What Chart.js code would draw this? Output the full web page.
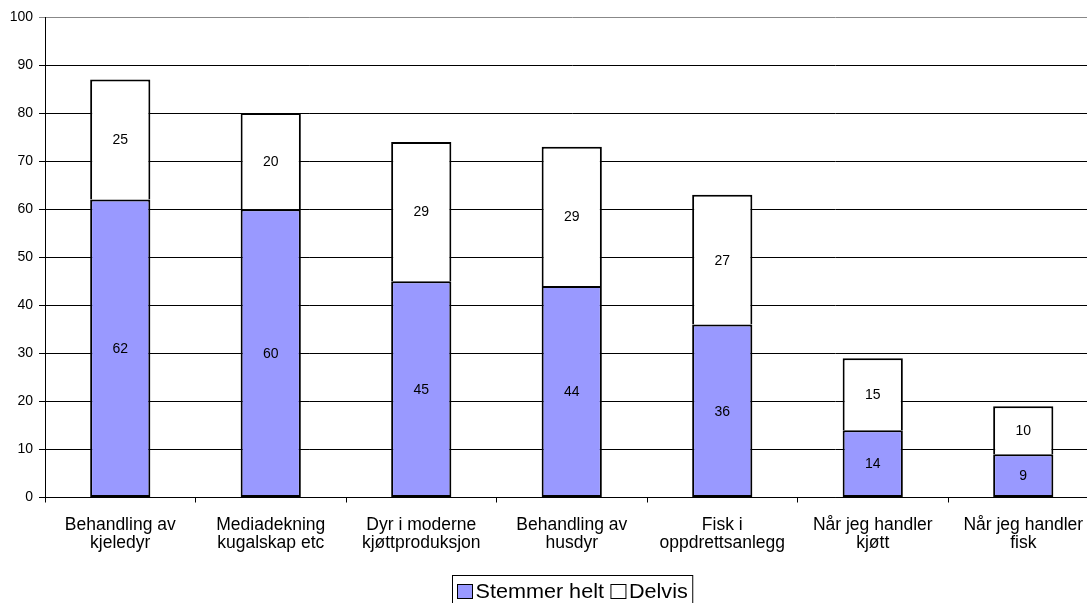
<!DOCTYPE html>
<html>
<head>
<meta charset="utf-8">
<script src="https://cdn.jsdelivr.net/npm/chart.js@4/dist/chart.umd.min.js"></script>
<style>
  html, body { margin: 0; padding: 0; background: #fff; overflow: hidden; }
  canvas { display: block; }
</style>
</head>
<body>
<canvas id="bar-chart" width="1143" height="610" style="width:1143px;height:610px"></canvas>
<script>
// data
var categories = [
  ["Behandling av", "kjeledyr"],
  ["Mediadekning", "kugalskap etc"],
  ["Dyr i moderne", "kjøttproduksjon"],
  ["Behandling av", "husdyr"],
  ["Fisk i", "oppdrettsanlegg"],
  ["Når jeg handler", "kjøtt"],
  ["Når jeg handler", "fisk"]
];
var stemmerHelt = [62, 60, 45, 44, 36, 14, 9];
var delvis = [25, 20, 29, 29, 27, 15, 10];
var seriesNames = ["Stemmer helt", "Delvis"];

var FONT = "'Liberation Sans', Arial, sans-serif";

// numbers in the middle of each bar piece
var valueLabels = {
  id: 'valueLabels',
  afterDatasetsDraw: function(chart) {
    var ctx = chart.ctx;
    ctx.save();
    ctx.font = "14px " + FONT;
    ctx.fillStyle = "#000";
    ctx.textAlign = "center";
    ctx.textBaseline = "middle";
    chart.data.datasets.forEach(function(ds, i) {
      chart.getDatasetMeta(i).data.forEach(function(bar, j) {
        var p = bar.getProps(['x', 'y', 'base'], true);
        ctx.fillText(ds.data[j], p.x, (p.y + p.base) / 2 + 1);
      });
    });
    ctx.restore();
  }
};

// boxed legend under the axis
var boxLegend = {
  id: 'boxLegend',
  afterDraw: function(chart) {
    var ctx = chart.ctx;
    var sx = 1.08;
    ctx.save();
    ctx.font = "20px " + FONT;
    var sq = 15, gap = 3, between = 7, pad = 5;
    var items = chart.data.datasets.map(function(ds) {
      return { text: ds.label, color: ds.backgroundColor, w: ctx.measureText(ds.label).width * sx };
    });
    var total = pad * 2;
    items.forEach(function(it, k) { total += sq + gap + it.w + (k ? between : 0); });
    var cx = (chart.chartArea.left + chart.chartArea.right) / 2;
    var left = Math.round(cx - total / 2) + 0.5;
    var top = 575.5, h = 31;
    ctx.strokeStyle = "#000";
    ctx.lineWidth = 1;
    ctx.strokeRect(left, top, total, h);
    var x = left + pad;
    var my = top + 16;
    items.forEach(function(it, k) {
      if (k) x += between;
      ctx.fillStyle = it.color;
      ctx.fillRect(x, my - 7, sq, 14);
      ctx.strokeRect(x, my - 7, sq, 14);
      x += sq + gap;
      ctx.save();
      ctx.translate(x, my);
      ctx.scale(sx, 1);
      ctx.fillStyle = "#000";
      ctx.textBaseline = "middle";
      ctx.fillText(it.text, 0, 1);
      ctx.restore();
      x += it.w;
    });
    ctx.restore();
  }
};

new Chart(document.getElementById("bar-chart"), {
  type: 'bar',
  data: {
    labels: categories,
    datasets: [
      {
        label: seriesNames[0],
        data: stemmerHelt,
        backgroundColor: "#9999ff",
        borderColor: "#000",
        borderWidth: 2,
        borderSkipped: false
      },
      {
        label: seriesNames[1],
        data: delvis,
        backgroundColor: "#ffffff",
        borderColor: "#000",
        borderWidth: 2,
        borderSkipped: 'bottom'
      }
    ]
  },
  options: {
    responsive: false,
    animation: false,
    devicePixelRatio: 1,
    categoryPercentage: 0.4,
    barPercentage: 1,
    layout: { padding: { top: 17, left: 0, right: 44.5, bottom: 0 } },
    plugins: {
      legend: { display: false },
      tooltip: { enabled: false }
    },
    scales: {
      x: {
        stacked: true,
        afterFit: function(scale) { scale.height = 112.5; },
        grid: {
          offset: true,
          drawOnChartArea: false,
          drawTicks: true,
          tickLength: 5,
          color: "#000"
        },
        border: { display: true, color: "#000" },
        ticks: {
          maxRotation: 0,
          autoSkip: false,
          padding: 14,
          color: "#000",
          font: { family: FONT, size: 17.5, lineHeight: '18px' }
        }
      },
      y: {
        stacked: true,
        min: 0,
        max: 100,
        afterFit: function(scale) { scale.width = 45; },
        grid: {
          color: function(c) { return c.tick && c.tick.value === 100 ? "#888" : "#000"; },
          tickLength: 6
        },
        border: { display: true, color: "#000" },
        ticks: {
          stepSize: 10,
          padding: 6,
          color: "#000",
          font: { family: FONT, size: 14 }
        }
      }
    }
  },
  plugins: [valueLabels, boxLegend]
});
</script>
</body>
</html>
